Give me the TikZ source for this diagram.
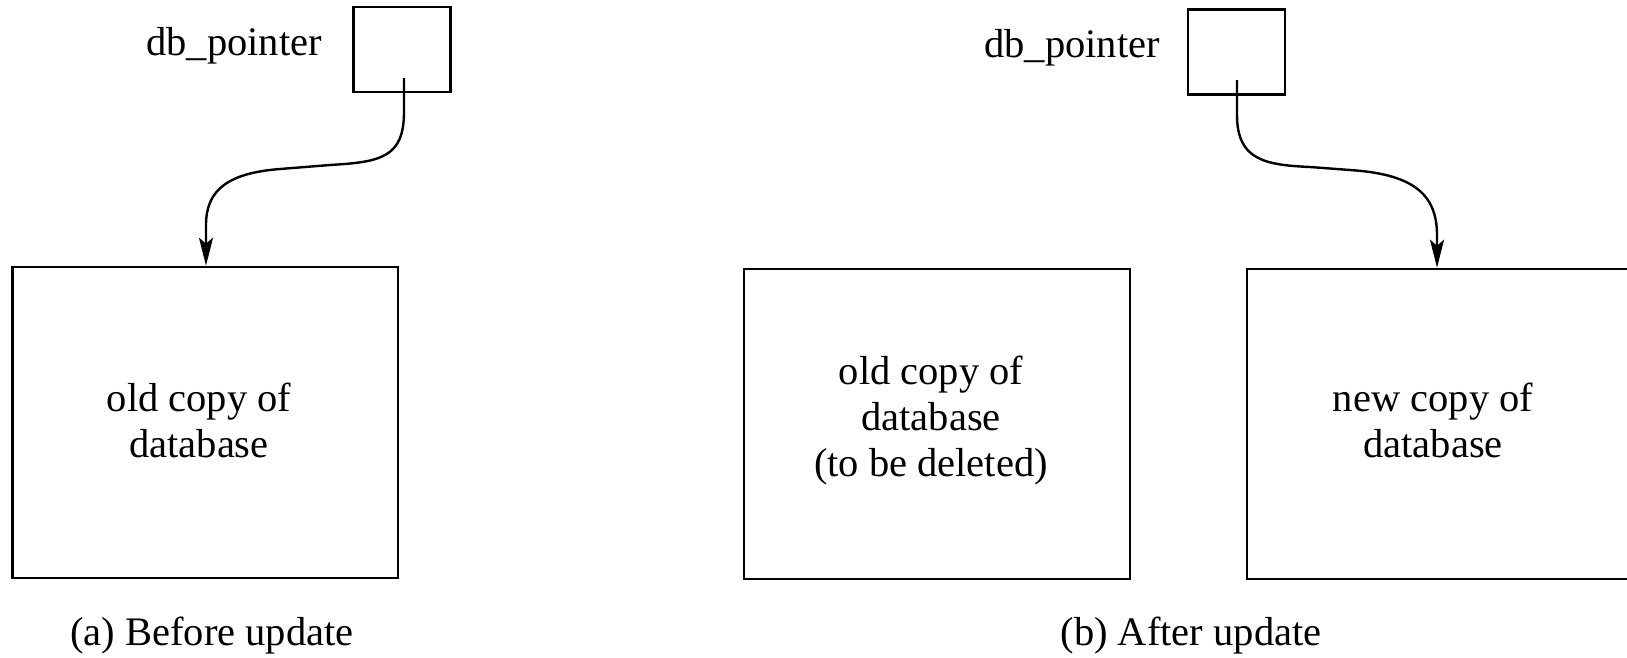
\documentclass[tikz,border=0pt]{standalone}
\usepackage{fontspec}
\setmainfont{Liberation Serif}
\usetikzlibrary{arrows.meta}
\begin{document}
\begin{tikzpicture}[x=1pt,y=-1pt,
  every node/.style={font=\fontsize{40.5}{46}\selectfont, inner sep=0pt},
  ptrbox/.style={draw, line width=2.2pt, minimum width=97pt, minimum height=85pt},
  dbbox/.style={draw, line width=2.6pt, minimum width=385pt, minimum height=310pt},
  txt/.style={align=center},
  ptrline/.style={line width=2.4pt, -{Stealth[length=28pt,width=14pt,inset=6pt]}}]
\useasboundingbox (0,0) rectangle (1627,657);
% (a)
\node[ptrbox] (lp) at (402,49.5) {};
\node[anchor=base] (lpl) at (234,55) {db\_pointer};
\node[dbbox, minimum width=385.5pt, minimum height=311pt] (lb) at (205.25,422.5) {};
\node[txt] (lbt) at (199,420) {old copy of\\database};
\coordinate (ls) at (404,78);
\draw[ptrline] (ls) -- (404,112) .. controls (404,158) and (380,162) .. (330,165)
   -- (280,169) .. controls (228,173) and (206,190) .. (206,225) -- (lb.north -| 206,0);
\node[anchor=base] (lcap) at (212,645) {(a) Before update};
% (b)
\node[ptrbox] (rp) at (1236.5,52) {};
\node[anchor=base] (rpl) at (1072,57) {db\_pointer};
\node[dbbox, minimum width=386pt] (mb) at (937,424) {};
\node[txt] (mbt) at (931,421) {old copy of\\database\\(to be deleted)};
\node[dbbox, minimum width=382pt] (rb) at (1438,424) {};
\node[txt] (rbt) at (1433,420) {new copy of\\database};
\coordinate (rs) at (1237,80);
\draw[ptrline] (rs) -- (1237,115) .. controls (1237,160) and (1265,165) .. (1310,167)
   -- (1350,170) .. controls (1410,174) and (1437,192) .. (1437,235) -- (rb.north -| 1437,0);
\node[anchor=base] (rcap) at (1191,645) {(b) After update};
\end{tikzpicture}
\end{document}
